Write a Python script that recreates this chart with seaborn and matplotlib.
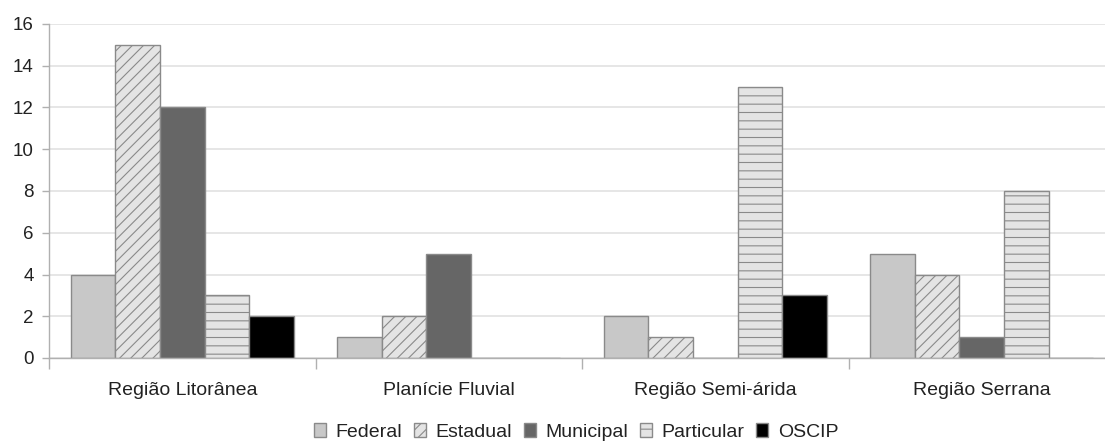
import matplotlib
matplotlib.use("Agg")
import matplotlib.pyplot as plt
from matplotlib.patches import Patch
import seaborn as sns
import pandas as pd

# Número de unidades por região e esfera administrativa
regioes = ["Região Litorânea", "Planície Fluvial", "Região Semi-árida", "Região Serrana"]
esferas = ["Federal", "Estadual", "Municipal", "Particular", "OSCIP"]
federal = [4, 1, 2, 5]
estadual = [15, 2, 1, 4]
municipal = [12, 5, 0, 1]
particular = [3, 0, 13, 8]
oscip = [2, 0, 3, 0]
y_ticks = [0, 2, 4, 6, 8, 10, 12, 14, 16]

valores = [federal, estadual, municipal, particular, oscip]
df = pd.DataFrame(
    [(r, e, v[i]) for e, v in zip(esferas, valores) for i, r in enumerate(regioes)],
    columns=["regiao", "esfera", "valor"],
)

fills = {"Federal": "#c8c8c8", "Estadual": "#e4e4e4", "Municipal": "#666666",
         "Particular": "#e4e4e4", "OSCIP": "#000000"}
hatches = {"Federal": "", "Estadual": "///", "Municipal": "",
           "Particular": "--", "OSCIP": ""}
edge = "#8a8a8a"

sns.set_style("white")
plt.rcParams["font.family"] = ["Liberation Sans", "DejaVu Sans"]
plt.rcParams["hatch.linewidth"] = 0.8

fig = plt.figure(figsize=(11.05, 4.46), dpi=100)
W, H = 1105, 446
ax = fig.add_axes([49 / W, (H - 358) / H, (1115 - 49) / W, (358 - 24) / H])

sns.barplot(data=df, x="regiao", y="valor", hue="esfera", order=regioes,
            hue_order=esferas, palette=fills, width=0.835, saturation=1,
            edgecolor=edge, linewidth=1.0, legend=False, ax=ax, zorder=2)

for cont, esfera in zip(ax.containers, esferas):
    for bar in cont:
        bar.set_hatch(hatches[esfera])
        bar.set_edgecolor(edge)

ax.set_xlim(-0.5, 3.5)
ax.set_ylim(0, 16)
ax.set_yticks(y_ticks)
ax.yaxis.grid(True, color="#e2e2e2", linewidth=1.2, zorder=0)
ax.set_axisbelow(True)
ax.set_xlabel("")
ax.set_ylabel("")

for s in ["top", "right"]:
    ax.spines[s].set_visible(False)
for s in ["left", "bottom"]:
    ax.spines[s].set_color("#b0b0b0")
    ax.spines[s].set_linewidth(1.0)

ax.tick_params(axis="y", which="major", length=5, width=1.0, color="#b0b0b0",
               pad=6, labelsize=13.5, labelcolor="#222222", left=True)
ax.set_xticks([-0.5, 0.5, 1.5, 2.5], minor=True)
ax.tick_params(axis="x", which="minor", length=8, width=1.0, color="#b0b0b0",
               bottom=True)
ax.tick_params(axis="x", which="major", length=0, pad=17, labelsize=14,
               labelcolor="#222222")

handles = [Patch(facecolor=fills[e], edgecolor=edge, hatch=hatches[e], label=e)
           for e in esferas]
fig.legend(handles=handles, loc="center", ncol=5, frameon=False,
           bbox_to_anchor=(576 / W, (H - 432) / H), fontsize=14,
           handlelength=0.62, handleheight=0.67, handletextpad=0.5,
           columnspacing=0.6, labelcolor="#222222", borderpad=0.1)

fig.savefig("out.png", dpi=100)
